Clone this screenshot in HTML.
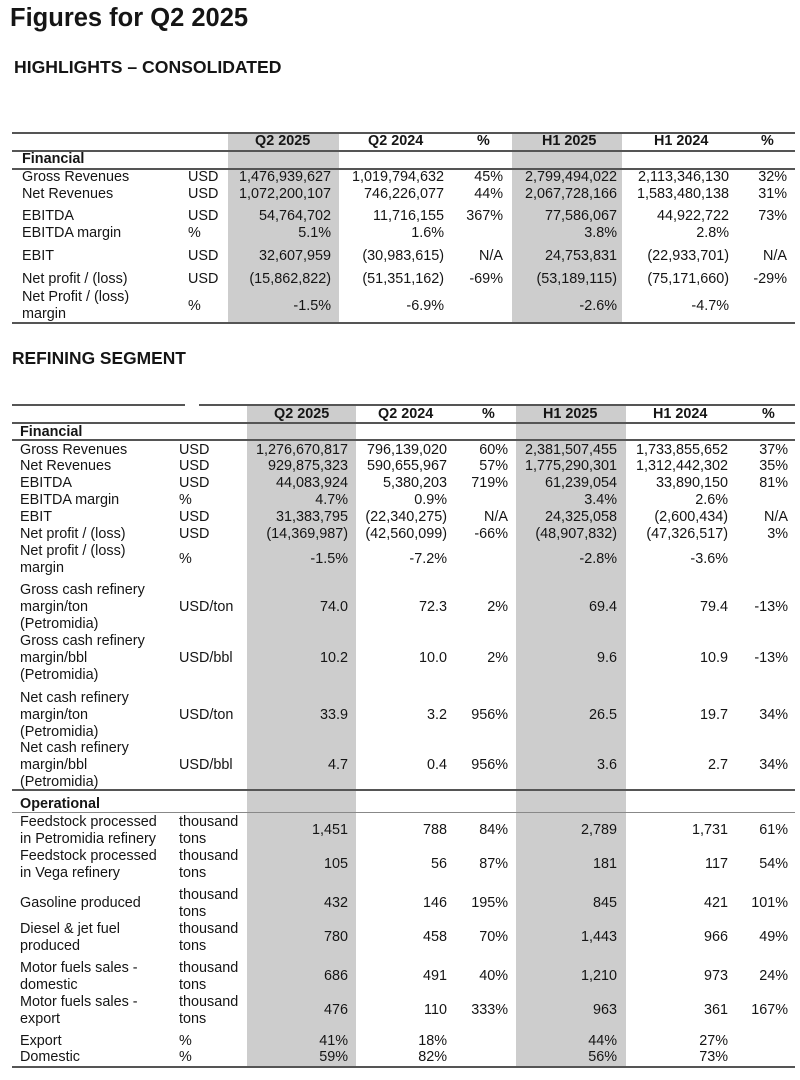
<!DOCTYPE html>
<html><head><meta charset="utf-8"><style>
body{margin:0;width:800px;height:1080px;background:#fff;font-family:"Liberation Sans",sans-serif;color:#151515;position:relative;overflow:hidden}
div{position:absolute}
.t{font-size:14.4px;line-height:17px;white-space:nowrap}
.b{font-weight:bold}
.sh{background:#cdcdcd}
.ln{height:1.5px;background:#555}
.a .c1{right:469px}.a .c2{right:356px}.a .c3{right:297px}.a .c4{right:183px}.a .c5{right:71px}.a .c6{right:13px}
.k .c1{right:452px}.k .c2{right:353px}.k .c3{right:292px}.k .c4{right:183px}.k .c5{right:72px}.k .c6{right:12px}
.w div{font-size:14.4px;line-height:17px;white-space:nowrap;top:0}
.w{left:0;width:800px;height:17px}
.hd div{font-weight:bold}
</style></head><body>
<div class="b" style="left:10px;top:4px;font-size:25.5px">Figures for Q2 2025</div>
<div class="b" style="left:14px;top:57px;font-size:17.6px">HIGHLIGHTS – CONSOLIDATED</div>
<div class="b" style="left:12px;top:348px;font-size:17.4px">REFINING SEGMENT</div>

<!-- table 1 -->
<div class="sh" style="left:228px;top:133px;width:111px;height:190px"></div>
<div class="sh" style="left:512px;top:133px;width:110px;height:190px"></div>
<div class="ln" style="left:12px;top:132px;width:783px"></div>
<div class="ln" style="left:12px;top:150px;width:783px"></div>
<div class="ln" style="left:12px;top:168px;width:783px"></div>
<div class="ln" style="left:12px;top:322px;width:783px"></div>
<div class="a">
<div class="w hd" style="top:133px"><div style="left:255px">Q2 2025</div><div style="left:368px">Q2 2024</div><div style="left:477px">%</div><div style="left:542px">H1 2025</div><div style="left:654px">H1 2024</div><div style="left:761px">%</div></div>
<div class="t b" style="left:22px;top:151px">Financial</div>
<div class="w" style="top:169px"><div style="left:22px">Gross Revenues</div><div style="left:188px">USD</div><div class="c1">1,476,939,627</div><div class="c2">1,019,794,632</div><div class="c3">45%</div><div class="c4">2,799,494,022</div><div class="c5">2,113,346,130</div><div class="c6">32%</div></div>
<div class="w" style="top:186px"><div style="left:22px">Net Revenues</div><div style="left:188px">USD</div><div class="c1">1,072,200,107</div><div class="c2">746,226,077</div><div class="c3">44%</div><div class="c4">2,067,728,166</div><div class="c5">1,583,480,138</div><div class="c6">31%</div></div>
<div class="w" style="top:208px"><div style="left:22px">EBITDA</div><div style="left:188px">USD</div><div class="c1">54,764,702</div><div class="c2">11,716,155</div><div class="c3">367%</div><div class="c4">77,586,067</div><div class="c5">44,922,722</div><div class="c6">73%</div></div>
<div class="w" style="top:225px"><div style="left:22px">EBITDA margin</div><div style="left:188px">%</div><div class="c1">5.1%</div><div class="c2">1.6%</div><div class="c4">3.8%</div><div class="c5">2.8%</div></div>
<div class="w" style="top:248px"><div style="left:22px">EBIT</div><div style="left:188px">USD</div><div class="c1">32,607,959</div><div class="c2">(30,983,615)</div><div class="c3">N/A</div><div class="c4">24,753,831</div><div class="c5">(22,933,701)</div><div class="c6">N/A</div></div>
<div class="w" style="top:271px"><div style="left:22px">Net profit / (loss)</div><div style="left:188px">USD</div><div class="c1">(15,862,822)</div><div class="c2">(51,351,162)</div><div class="c3">-69%</div><div class="c4">(53,189,115)</div><div class="c5">(75,171,660)</div><div class="c6">-29%</div></div>
<div class="t" style="left:22px;top:289px">Net Profit / (loss)</div>
<div class="t" style="left:22px;top:306px">margin</div>
<div class="w" style="top:298px"><div style="left:188px">%</div><div class="c1">-1.5%</div><div class="c2">-6.9%</div><div class="c4">-2.6%</div><div class="c5">-4.7%</div></div>
</div>

<!-- table 2 -->
<div class="sh" style="left:247px;top:405px;width:109px;height:662px"></div>
<div class="sh" style="left:516px;top:405px;width:110px;height:662px"></div>
<div class="ln" style="left:12px;top:404px;width:173px"></div>
<div class="ln" style="left:199px;top:404px;width:596px"></div>
<div class="ln" style="left:12px;top:422px;width:783px"></div>
<div class="ln" style="left:12px;top:439px;width:783px"></div>
<div class="ln" style="left:12px;top:789px;width:783px"></div>
<div class="ln" style="left:12px;top:812px;width:783px;background:#888;height:1px"></div>
<div class="ln" style="left:12px;top:1066px;width:783px"></div>
<div class="k">
<div class="w hd" style="top:406px"><div style="left:274px">Q2 2025</div><div style="left:378px">Q2 2024</div><div style="left:482px">%</div><div style="left:543px">H1 2025</div><div style="left:653px">H1 2024</div><div style="left:762px">%</div></div>
<div class="t b" style="left:20px;top:424px">Financial</div>
<div class="w" style="top:442px"><div style="left:20px">Gross Revenues</div><div style="left:179px">USD</div><div class="c1">1,276,670,817</div><div class="c2">796,139,020</div><div class="c3">60%</div><div class="c4">2,381,507,455</div><div class="c5">1,733,855,652</div><div class="c6">37%</div></div>
<div class="w" style="top:458px"><div style="left:20px">Net Revenues</div><div style="left:179px">USD</div><div class="c1">929,875,323</div><div class="c2">590,655,967</div><div class="c3">57%</div><div class="c4">1,775,290,301</div><div class="c5">1,312,442,302</div><div class="c6">35%</div></div>
<div class="w" style="top:475px"><div style="left:20px">EBITDA</div><div style="left:179px">USD</div><div class="c1">44,083,924</div><div class="c2">5,380,203</div><div class="c3">719%</div><div class="c4">61,239,054</div><div class="c5">33,890,150</div><div class="c6">81%</div></div>
<div class="w" style="top:492px"><div style="left:20px">EBITDA margin</div><div style="left:179px">%</div><div class="c1">4.7%</div><div class="c2">0.9%</div><div class="c4">3.4%</div><div class="c5">2.6%</div></div>
<div class="w" style="top:509px"><div style="left:20px">EBIT</div><div style="left:179px">USD</div><div class="c1">31,383,795</div><div class="c2">(22,340,275)</div><div class="c3">N/A</div><div class="c4">24,325,058</div><div class="c5">(2,600,434)</div><div class="c6">N/A</div></div>
<div class="w" style="top:526px"><div style="left:20px">Net profit / (loss)</div><div style="left:179px">USD</div><div class="c1">(14,369,987)</div><div class="c2">(42,560,099)</div><div class="c3">-66%</div><div class="c4">(48,907,832)</div><div class="c5">(47,326,517)</div><div class="c6">3%</div></div>
<div class="t" style="left:20px;top:543px">Net profit / (loss)<br>margin</div>
<div class="w" style="top:551px"><div style="left:179px">%</div><div class="c1">-1.5%</div><div class="c2">-7.2%</div><div class="c4">-2.8%</div><div class="c5">-3.6%</div></div>

<div class="t" style="left:20px;top:582px">Gross cash refinery<br>margin/ton<br>(Petromidia)</div>
<div class="w" style="top:599px"><div style="left:179px">USD/ton</div><div class="c1">74.0</div><div class="c2">72.3</div><div class="c3">2%</div><div class="c4">69.4</div><div class="c5">79.4</div><div class="c6">-13%</div></div>
<div class="t" style="left:20px;top:633px">Gross cash refinery<br>margin/bbl<br>(Petromidia)</div>
<div class="w" style="top:650px"><div style="left:179px">USD/bbl</div><div class="c1">10.2</div><div class="c2">10.0</div><div class="c3">2%</div><div class="c4">9.6</div><div class="c5">10.9</div><div class="c6">-13%</div></div>
<div class="t" style="left:20px;top:690px">Net cash refinery<br>margin/ton<br>(Petromidia)</div>
<div class="w" style="top:707px"><div style="left:179px">USD/ton</div><div class="c1">33.9</div><div class="c2">3.2</div><div class="c3">956%</div><div class="c4">26.5</div><div class="c5">19.7</div><div class="c6">34%</div></div>
<div class="t" style="left:20px;top:740px">Net cash refinery<br>margin/bbl<br>(Petromidia)</div>
<div class="w" style="top:757px"><div style="left:179px">USD/bbl</div><div class="c1">4.7</div><div class="c2">0.4</div><div class="c3">956%</div><div class="c4">3.6</div><div class="c5">2.7</div><div class="c6">34%</div></div>

<div class="t b" style="left:20px;top:796px">Operational</div>
<div class="t" style="left:20px;top:814px">Feedstock processed<br>in Petromidia refinery</div>
<div class="t" style="left:179px;top:814px">thousand<br>tons</div>
<div class="w" style="top:822px"><div class="c1">1,451</div><div class="c2">788</div><div class="c3">84%</div><div class="c4">2,789</div><div class="c5">1,731</div><div class="c6">61%</div></div>
<div class="t" style="left:20px;top:848px">Feedstock processed<br>in Vega refinery</div>
<div class="t" style="left:179px;top:848px">thousand<br>tons</div>
<div class="w" style="top:856px"><div class="c1">105</div><div class="c2">56</div><div class="c3">87%</div><div class="c4">181</div><div class="c5">117</div><div class="c6">54%</div></div>
<div class="t" style="left:20px;top:895px">Gasoline produced</div>
<div class="t" style="left:179px;top:887px">thousand<br>tons</div>
<div class="w" style="top:895px"><div class="c1">432</div><div class="c2">146</div><div class="c3">195%</div><div class="c4">845</div><div class="c5">421</div><div class="c6">101%</div></div>
<div class="t" style="left:20px;top:921px">Diesel &amp; jet fuel<br>produced</div>
<div class="t" style="left:179px;top:921px">thousand<br>tons</div>
<div class="w" style="top:929px"><div class="c1">780</div><div class="c2">458</div><div class="c3">70%</div><div class="c4">1,443</div><div class="c5">966</div><div class="c6">49%</div></div>
<div class="t" style="left:20px;top:960px">Motor fuels sales -<br>domestic</div>
<div class="t" style="left:179px;top:960px">thousand<br>tons</div>
<div class="w" style="top:968px"><div class="c1">686</div><div class="c2">491</div><div class="c3">40%</div><div class="c4">1,210</div><div class="c5">973</div><div class="c6">24%</div></div>
<div class="t" style="left:20px;top:994px">Motor fuels sales -<br>export</div>
<div class="t" style="left:179px;top:994px">thousand<br>tons</div>
<div class="w" style="top:1002px"><div class="c1">476</div><div class="c2">110</div><div class="c3">333%</div><div class="c4">963</div><div class="c5">361</div><div class="c6">167%</div></div>
<div class="w" style="top:1033px"><div style="left:20px">Export</div><div style="left:179px">%</div><div class="c1">41%</div><div class="c2">18%</div><div class="c4">44%</div><div class="c5">27%</div></div>
<div class="w" style="top:1049px"><div style="left:20px">Domestic</div><div style="left:179px">%</div><div class="c1">59%</div><div class="c2">82%</div><div class="c4">56%</div><div class="c5">73%</div></div>
</div>
</body></html>
